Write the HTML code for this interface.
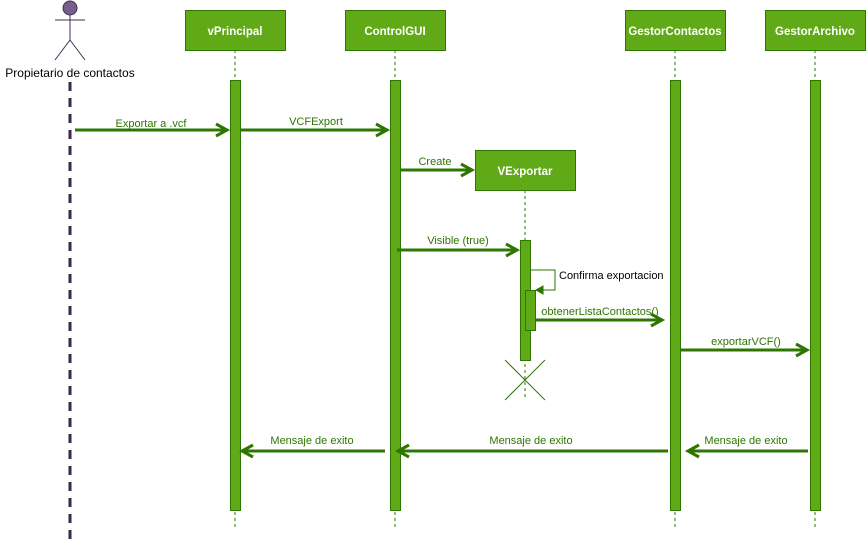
<!DOCTYPE html>
<html><head><meta charset="utf-8"><style>
body{margin:0;background:#fff}
svg{display:block}
text{font-family:"Liberation Sans",sans-serif}
.g{fill:#2d7600;font-size:11px;text-anchor:middle}
.b{fill:#fff;font-size:11.5px;font-weight:bold;text-anchor:middle}
</style></head><body>
<svg width="866" height="543" viewBox="0 0 866 543" xmlns="http://www.w3.org/2000/svg">
<circle cx="70" cy="8" r="7" fill="#76608a" stroke="#432d57"/>
<g stroke="#432d57" stroke-width="1" fill="none">
<line x1="70" y1="15" x2="70" y2="40"/><line x1="55" y1="20" x2="85" y2="20"/>
<line x1="70" y1="40" x2="55" y2="60"/><line x1="70" y1="40" x2="85" y2="60"/>
</g>
<text x="70" y="77" font-size="12" text-anchor="middle" fill="#000">Propietario de contactos</text>
<line x1="70" y1="82" x2="70" y2="543" stroke="#3a2a4e" stroke-width="3" stroke-dasharray="9,7"/>
<g stroke="#2d7600" stroke-dasharray="3,3" stroke-width="1">
<line x1="235" y1="50" x2="235" y2="528"/><line x1="395" y1="50" x2="395" y2="528"/>
<line x1="675" y1="50" x2="675" y2="528"/><line x1="815" y1="50" x2="815" y2="528"/>
<line x1="525" y1="190" x2="525" y2="400"/>
</g>
<g fill="#60a917" stroke="#2d7600">
<rect x="185.5" y="10.5" width="100" height="40"/><rect x="345.5" y="10.5" width="100" height="40"/>
<rect x="625.5" y="10.5" width="100" height="40"/><rect x="765.5" y="10.5" width="100" height="40"/>
<rect x="475.5" y="150.5" width="100" height="40"/>
<rect x="230.5" y="80.5" width="10" height="430"/><rect x="390.5" y="80.5" width="10" height="430"/>
<rect x="670.5" y="80.5" width="10" height="430"/><rect x="810.5" y="80.5" width="10" height="430"/>
<rect x="520.5" y="240.5" width="10" height="120"/><rect x="525.5" y="290.5" width="10" height="40"/>
</g>
<text class="b" x="235" y="35">vPrincipal</text><text class="b" x="395" y="35">ControlGUI</text>
<text class="b" x="675" y="35">GestorContactos</text><text class="b" x="815" y="35">GestorArchivo</text>
<text class="b" x="525" y="175">VExportar</text>
<g stroke="#2d7600"><line x1="505" y1="360" x2="545" y2="400"/><line x1="545" y1="360" x2="505" y2="400"/></g>
<g stroke="#2d7600" stroke-width="3" fill="none">
<line x1="75" y1="130" x2="226" y2="130"/><path d="M216,124 L227,130 L216,136"/>
<line x1="240" y1="130" x2="386" y2="130"/><path d="M376,124 L387,130 L376,136"/>
<line x1="400" y1="170" x2="471" y2="170"/><path d="M461,164 L472,170 L461,176"/>
<line x1="397" y1="250" x2="516" y2="250"/><path d="M506,244 L517,250 L506,256"/>
<line x1="535" y1="320" x2="661" y2="320"/><path d="M651,314 L662,320 L651,326"/>
<line x1="680" y1="350" x2="806" y2="350"/><path d="M796,344 L807,350 L796,356"/>
<line x1="808" y1="451" x2="690" y2="451"/><path d="M699,445 L688,451 L699,457"/>
<line x1="668" y1="451" x2="400" y2="451"/><path d="M409,445 L398,451 L409,457"/>
<line x1="385" y1="451" x2="244" y2="451"/><path d="M253,445 L242,451 L253,457"/>
</g>
<path d="M530,270 H555 V290 H537" stroke="#2d7600" fill="none"/>
<path d="M543,286 L536,290 L543,294 Z" fill="#2d7600" stroke="#2d7600"/>
<text class="g" x="151" y="127">Exportar a .vcf</text>
<text class="g" x="316" y="125">VCFExport</text>
<text class="g" x="435" y="165">Create</text>
<text class="g" x="458" y="244">Visible (true)</text>
<text x="559" y="279" font-size="11" fill="#000">Confirma exportacion</text>
<text class="g" x="600" y="315">obtenerListaContactos()</text>
<text class="g" x="746" y="345">exportarVCF()</text>
<text class="g" x="746" y="444">Mensaje de exito</text>
<text class="g" x="531" y="444">Mensaje de exito</text>
<text class="g" x="312" y="444">Mensaje de exito</text>
</svg>
</body></html>
